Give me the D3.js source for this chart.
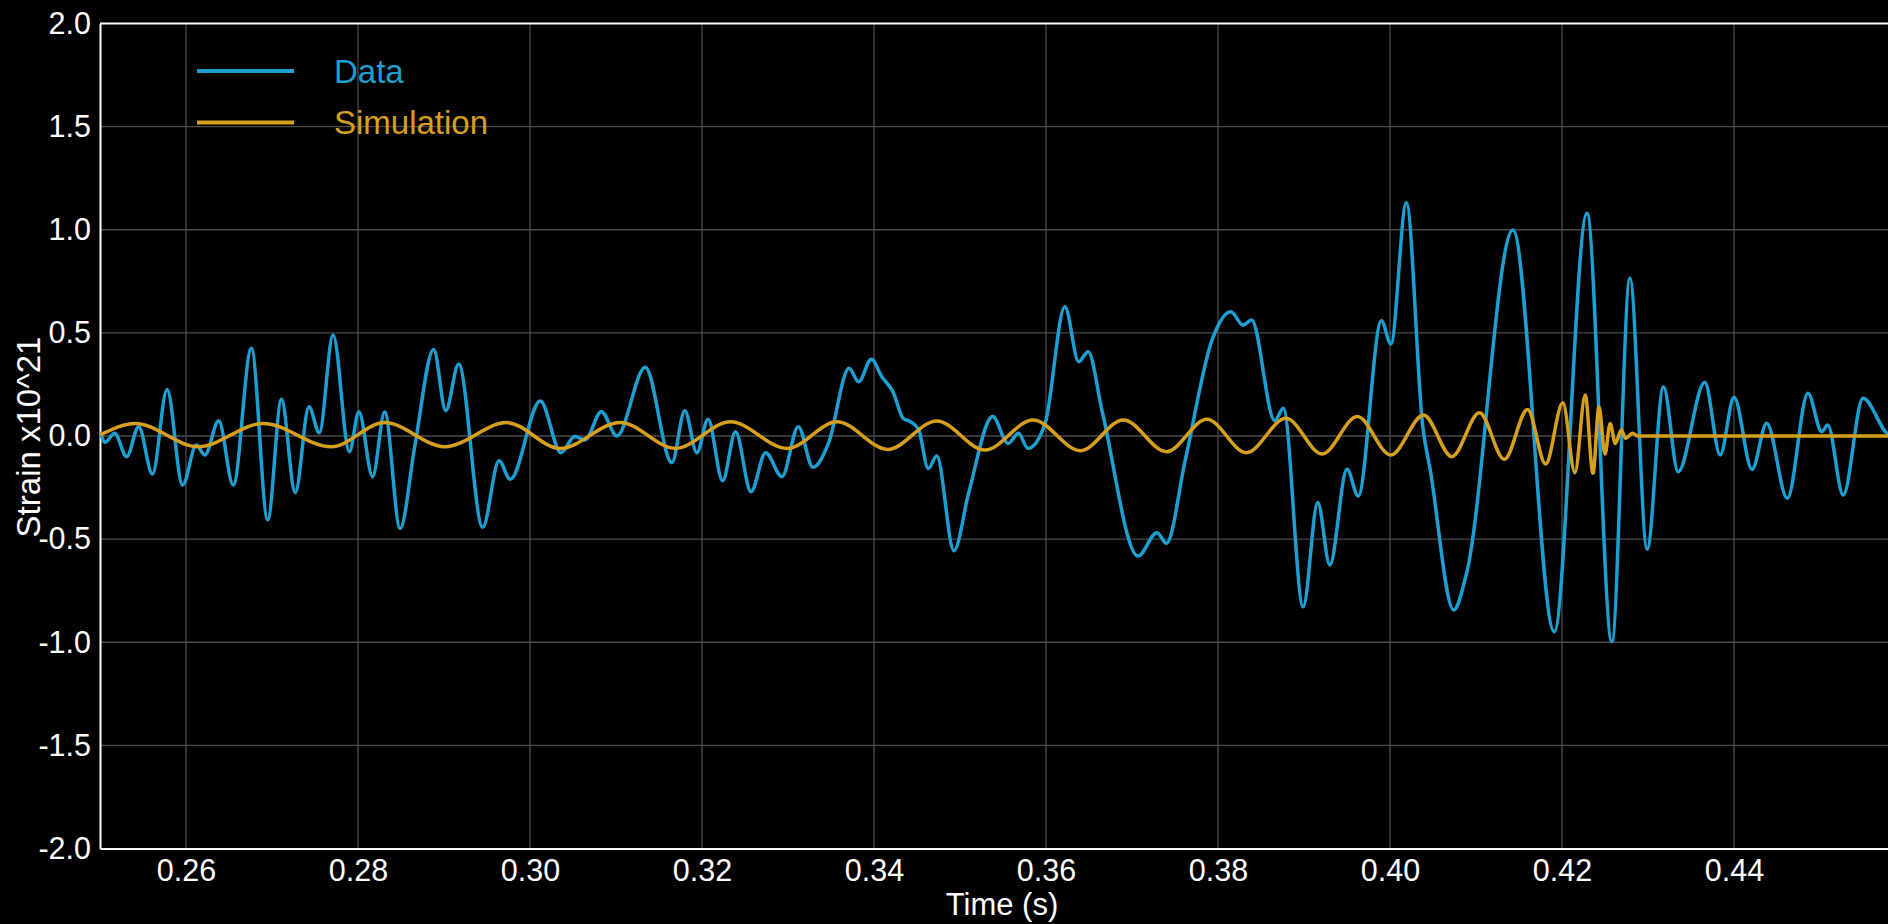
<!DOCTYPE html>
<html>
<head>
<meta charset="utf-8">
<script src="https://cdn.jsdelivr.net/npm/d3@7"></script>
<style>
	html, body { margin: 0; padding: 0; background: #000; overflow: hidden; }
	svg { display: block; font-family: "Liberation Sans", Arial, sans-serif; }
</style>
</head>
<body>
<script>
// detected strain, read peak by peak off the picture (time in s, strain x10^21)
var dataTime = [0.2500,0.2506,0.2517,0.2531,0.2545,0.2561,0.2578,0.2596,0.2612,0.2622,0.2638,0.2655,0.2676,0.2695,0.2711,0.2727,0.2743,0.2755,0.2771,0.2790,0.2801,0.2817,0.2831,0.2849,0.2866,0.2888,0.2902,0.2917,0.2945,0.2964,0.2977,0.3012,0.3036,0.3052,0.3064,0.3083,0.3101,0.3134,0.3165,0.3180,0.3194,0.3207,0.3224,0.3239,0.3257,0.3274,0.3293,0.3312,0.3329,0.3347,0.3371,0.3382,0.3397,0.3409,0.3422,0.3434,0.3442,0.3452,0.3463,0.3473,0.3493,0.3510,0.3538,0.3556,0.3568,0.3579,0.3599,0.3622,0.3638,0.3649,0.3665,0.3707,0.3729,0.3740,0.3762,0.3793,0.3815,0.3829,0.3839,0.3866,0.3876,0.3899,0.3916,0.3930,0.3950,0.3963,0.3990,0.4001,0.4019,0.4038,0.4047,0.4074,0.4089,0.4143,0.4191,0.4229,0.4258,0.4279,0.4299,0.4318,0.4335,0.4366,0.4384,0.4400,0.4421,0.4438,0.4462,0.4486,0.4502,0.4509,0.4527,0.4550,0.4576,0.4600];
var dataStrain = [0.02,-0.03,0.013,-0.10,0.045,-0.184,0.226,-0.238,-0.044,-0.092,0.074,-0.238,0.425,-0.407,0.178,-0.275,0.142,0.016,0.49,-0.076,0.118,-0.197,0.116,-0.448,-0.05,0.42,0.123,0.349,-0.443,-0.12,-0.21,0.17,-0.081,-0.003,-0.019,0.118,0.0,0.333,-0.129,0.123,-0.081,0.081,-0.217,0.021,-0.27,-0.081,-0.197,0.045,-0.152,-0.036,0.328,0.263,0.372,0.288,0.215,0.085,0.07,0.03,-0.157,-0.097,-0.556,-0.278,0.094,-0.036,0.013,-0.06,0.061,0.627,0.36,0.409,0.126,-0.582,-0.469,-0.52,-0.116,0.465,0.603,0.538,0.562,0.074,0.134,-0.828,-0.323,-0.625,-0.161,-0.291,0.559,0.446,1.131,0.05,-0.17,-0.844,-0.666,0.999,-0.949,1.08,-0.997,0.765,-0.549,0.239,-0.173,0.26,-0.092,0.188,-0.162,0.062,-0.302,0.207,0.021,0.053,-0.286,0.183,0.021,-0.06];

// simulated waveform, peaks and troughs of the chirp then ringdown
var simTime = [0.2500,0.2541,0.2614,0.2690,0.2769,0.2831,0.2901,0.2973,0.3035,0.3105,0.3169,0.3233,0.3299,0.3357,0.3416,0.3473,0.3529,0.3585,0.3640,0.3690,0.3740,0.3787,0.3833,0.3879,0.3921,0.3962,0.4001,0.4039,0.4072,0.4104,0.4133,0.4160,0.4181,0.4201,0.4215,0.4227,0.4236,0.4243,0.4250,0.4256,0.4262,0.4269,0.4274,0.4282,0.4288,0.4600];
var simStrain = [0.005,0.061,-0.052,0.061,-0.052,0.065,-0.052,0.065,-0.06,0.066,-0.06,0.069,-0.06,0.069,-0.065,0.073,-0.068,0.078,-0.071,0.078,-0.076,0.081,-0.081,0.086,-0.087,0.094,-0.092,0.102,-0.10,0.113,-0.113,0.129,-0.136,0.161,-0.178,0.199,-0.181,0.142,-0.087,0.061,-0.036,0.029,-0.011,0.013,0.0,0.0];

var xTicks = [0.26,0.28,0.30,0.32,0.34,0.36,0.38,0.40,0.42,0.44];
var yTicks = [-2.0,-1.5,-1.0,-0.5,0.0,0.5,1.0,1.5,2.0];
var seriesNames = ["Data", "Simulation"];

var params = {
	width: 1888,
	height: 924,
	left: 100,
	top: 23.5,
	plotW: 1806,
	plotH: 825,
	blue: "#1e9fd2",
	gold: "#d6a01e",
	grid: "#4a4a4a",
	fontsize: 30.5
};

function createSVG(){
	params.svg = d3.select("body").append("svg")
		.attr("width", params.width)
		.attr("height", params.height);

	params.x = d3.scaleLinear()
		.domain([0.25, 0.46])
		.range([params.left, params.left + params.plotW]);
	params.y = d3.scaleLinear()
		.domain([-2, 2])
		.range([params.top + params.plotH, params.top]);
}

function drawAxes(){
	var svg = params.svg;
	var bottom = params.top + params.plotH;

	//gridlines
	svg.append("g")
		.selectAll("line.vgrid")
		.data(xTicks).enter().append("line")
			.attr("x1", params.x).attr("x2", params.x)
			.attr("y1", params.top).attr("y2", bottom)
			.style("stroke", params.grid)
			.style("stroke-width", 1.3);
	svg.append("g")
		.selectAll("line.hgrid")
		.data(yTicks.filter(function(d){ return Math.abs(d) < 2; })).enter().append("line")
			.attr("y1", params.y).attr("y2", params.y)
			.attr("x1", params.left).attr("x2", params.left + params.plotW)
			.style("stroke", params.grid)
			.style("stroke-width", 1.3);

	//axes
	var xAxis = svg.append("g")
		.attr("transform", "translate(0," + bottom + ")")
		.call(d3.axisBottom(params.x).tickValues(xTicks).tickSize(0).tickPadding(11)
			.tickFormat(function(d){ return d.toFixed(2); }));
	var yAxis = svg.append("g")
		.attr("transform", "translate(" + params.left + ",0)")
		.call(d3.axisLeft(params.y).tickValues(yTicks).tickSize(0).tickPadding(9)
			.tickFormat(function(d){ return d.toFixed(1); }));

	[xAxis, yAxis].forEach(function(a){
		a.select(".domain").style("stroke", "#fff").style("stroke-width", 2);
		a.selectAll("text")
			.style("fill", "#fff")
			.style("font-family", "Liberation Sans, Arial, sans-serif")
			.style("font-size", params.fontsize + "px");
	});

	//top border
	svg.append("line")
		.attr("x1", params.left).attr("x2", params.left + params.plotW)
		.attr("y1", params.top).attr("y2", params.top)
		.style("stroke", "#fff").style("stroke-width", 2);

	//axis titles
	svg.append("text")
		.attr("x", 1002).attr("y", 915)
		.attr("text-anchor", "middle")
		.style("fill", "#fff")
		.style("font-size", "31px")
		.text("Time (s)");
	svg.append("text")
		.attr("transform", "translate(40,437)rotate(-90)")
		.attr("text-anchor", "middle")
		.style("fill", "#fff")
		.style("font-size", "33px")
		.text("Strain x10^21");
}

function drawLines(){
	var line = d3.line()
		.curve(d3.curveMonotoneX)
		.x(function(d){ return params.x(d[0]); })
		.y(function(d){ return params.y(d[1]); });

	params.svg.append("clipPath").attr("id", "plotClip")
		.append("rect")
			.attr("x", params.left).attr("y", params.top)
			.attr("width", params.plotW).attr("height", params.plotH);

	var g = params.svg.append("g").attr("clip-path", "url(#plotClip)");

	g.append("path")
		.datum(d3.zip(dataTime, dataStrain))
		.attr("d", line)
		.style("fill", "none")
		.style("stroke", params.blue)
		.style("stroke-width", 3.5)
		.style("stroke-linejoin", "round");

	g.append("path")
		.datum(d3.zip(simTime, simStrain))
		.attr("d", line)
		.style("fill", "none")
		.style("stroke", params.gold)
		.style("stroke-width", 3.5)
		.style("stroke-linejoin", "round");
}

function drawLegend(){
	var colors = [params.blue, params.gold];
	var g = params.svg.append("g")
		.selectAll(".legend")
		.data(seriesNames).enter().append("g")
			.attr("class", "legend")
			.attr("transform", function(d, i){ return "translate(0," + (71 + i*51.5) + ")"; });

	g.append("line")
		.attr("x1", 197).attr("x2", 294)
		.style("stroke", function(d, i){ return colors[i]; })
		.style("stroke-width", 4);

	g.append("text")
		.attr("x", 334)
		.attr("dy", "0.35em")
		.style("fill", function(d, i){ return colors[i]; })
		.style("font-size", "33px")
		.text(function(d){ return d; });
}

createSVG();
drawAxes();
drawLines();
drawLegend();
</script>
</body>
</html>
